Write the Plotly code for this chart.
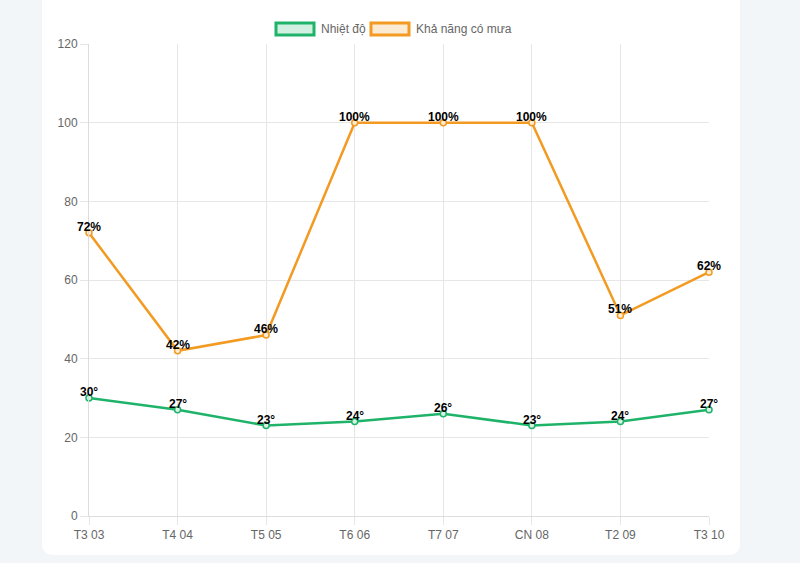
import plotly.graph_objects as go

days = ["T3 03", "T4 04", "T5 05", "T6 06", "T7 07", "CN 08", "T2 09", "T3 10"]
temperature = [30, 27, 23, 24, 26, 23, 24, 27]
rain_chance = [72, 42, 46, 100, 100, 100, 51, 62]
y_ticks = [0, 20, 40, 60, 80, 100, 120]

green = "#1fb36a"
orange = "#f29a21"
grid = "#e6e6e6"

W, H = 800, 563
xi = list(range(len(days)))

fig = go.Figure()
fig.add_trace(go.Scatter(
    x=xi, y=rain_chance, mode="lines+markers",
    line=dict(color=orange, width=2.5),
    marker=dict(size=6, color="rgba(253,235,210,1)", line=dict(color=orange, width=1.5)),
    cliponaxis=False, name="Khả năng có mưa"))
fig.add_trace(go.Scatter(
    x=xi, y=temperature, mode="lines+markers",
    line=dict(color=green, width=2.5),
    marker=dict(size=6, color="rgba(215,242,228,1)", line=dict(color=green, width=1.5)),
    cliponaxis=False, name="Nhiệt độ"))

ml, mr, mt, mb = 89, 91, 44, 47
pw, ph = W - ml - mr, H - mt - mb

def cx(xpix):
    return (xpix - ml) / pw

def cy(ypix):
    return (H - ypix - mb) / ph

shapes = []
# white card with rounded bottom corners
r = 12
x0, x1, yb, yt = 42, 740, 555, -5
path = (f"M {cx(x0):.5f} {cy(yt):.5f} L {cx(x1):.5f} {cy(yt):.5f} L {cx(x1):.5f} {cy(yb - r):.5f} "
        f"Q {cx(x1):.5f} {cy(yb):.5f} {cx(x1 - r):.5f} {cy(yb):.5f} L {cx(x0 + r):.5f} {cy(yb):.5f} "
        f"Q {cx(x0):.5f} {cy(yb):.5f} {cx(x0):.5f} {cy(yb - r):.5f} Z")
shapes.append(dict(type="path", xref="paper", yref="paper", path=path,
                   fillcolor="white", line=dict(width=0), layer="below"))

# legend boxes
for (bx0, bx1, lc, fc) in [(276, 314, green, "rgba(31,179,106,0.2)"),
                           (371, 409, orange, "rgba(242,154,33,0.2)")]:
    shapes.append(dict(type="rect", xref="paper", yref="paper",
                       x0=cx(bx0), x1=cx(bx1), y0=cy(35), y1=cy(23),
                       line=dict(color=lc, width=3), fillcolor=fc))

label_font = dict(family="Arial, Liberation Sans", size=12, color="#000", weight="bold")
annotations = [
    dict(text="Nhiệt độ", xref="paper", yref="paper",
         x=cx(319), y=cy(29), xanchor="left", yanchor="middle",
         showarrow=False, font=dict(family="Arial, Liberation Sans", size=12, color="#666")),
    dict(text="Khả năng có mưa", xref="paper", yref="paper",
         x=cx(414), y=cy(29), xanchor="left", yanchor="middle",
         showarrow=False, font=dict(family="Arial, Liberation Sans", size=12, color="#666")),
]
for i, v in zip(xi, rain_chance):
    annotations.append(dict(x=i, y=v, text=f"{v}%", showarrow=False, xanchor="center",
                            yanchor="bottom", yshift=-3, font=label_font))
for i, v in zip(xi, temperature):
    annotations.append(dict(x=i, y=v, text=f"{v}°", showarrow=False, xanchor="center",
                            yanchor="bottom", yshift=-3, font=label_font))

fig.update_layout(
    width=W, height=H,
    margin=dict(l=ml, r=mr, t=mt, b=mb),
    paper_bgcolor="#f3f6f8", plot_bgcolor="rgba(0,0,0,0)",
    showlegend=False,
    shapes=shapes, annotations=annotations,
    font=dict(family="Arial, Liberation Sans", size=12, color="#666"),
    xaxis=dict(range=[0, len(days) - 1], tickvals=xi, ticktext=days,
               showgrid=True, gridcolor=grid, gridwidth=1,
               ticks="outside", ticklen=8, tickcolor=grid,
               zeroline=False, showline=True, linecolor="#dcdcdc",
               tickfont=dict(size=12, color="#666")),
    yaxis=dict(range=[0, 120], tickvals=y_ticks,
               showgrid=True, gridcolor=grid, gridwidth=1,
               ticks="outside", ticklen=8, tickcolor=grid,
               zeroline=False, showline=True, linecolor="#dcdcdc",
               tickfont=dict(size=12, color="#666")),
)

fig.write_html("out.html")
